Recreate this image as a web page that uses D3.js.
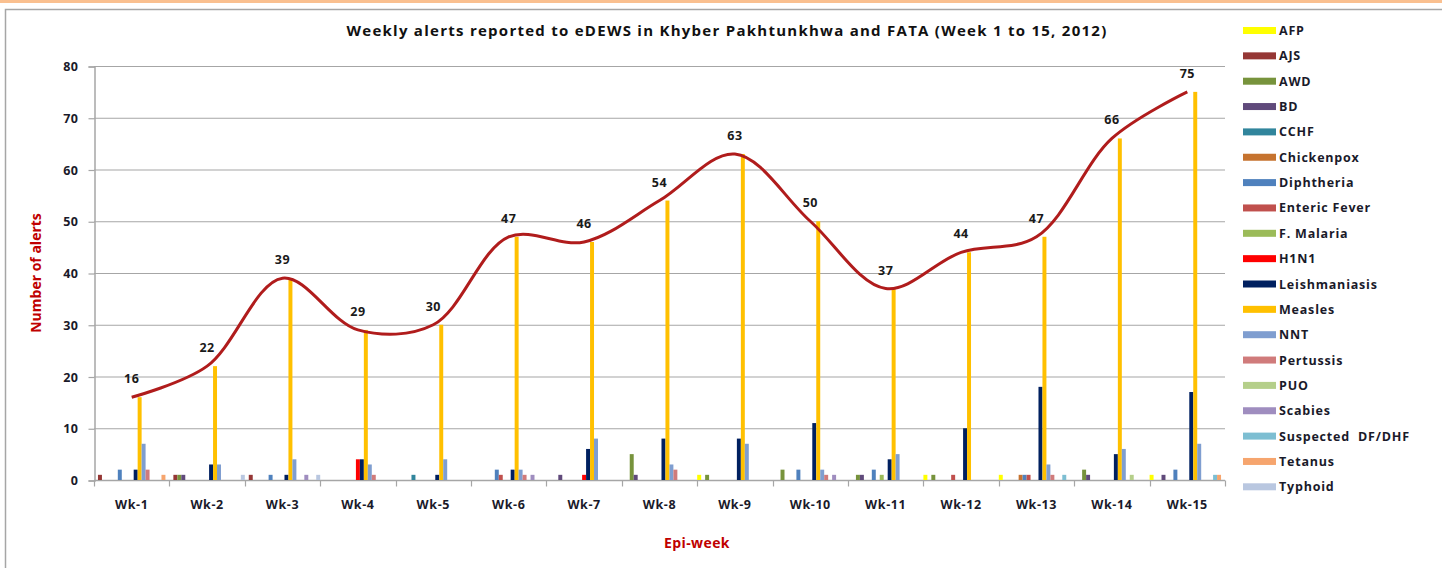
<!DOCTYPE html>
<html>
<head>
<meta charset="utf-8">
<script src="https://cdn.jsdelivr.net/npm/d3@7"></script>
<style>
  body { margin: 0; background: #fff; }
  svg { display: block; font-family: "Open Sans", "Liberation Sans", Arial, sans-serif; }
</style>
</head>
<body>
<script>
// ---------------- data ----------------
var weeks = ["Wk-1","Wk-2","Wk-3","Wk-4","Wk-5","Wk-6","Wk-7","Wk-8","Wk-9","Wk-10","Wk-11","Wk-12","Wk-13","Wk-14","Wk-15"];

var afp          = [0,0,0,0,0,0,0,0,1,0,0,1,1,0,1];
var ajs          = [1,1,1,0,0,0,0,0,0,0,0,0,0,0,0];
var awd          = [0,1,0,0,0,0,0,5,1,2,1,1,0,2,0];
var bd           = [0,1,0,0,0,0,1,1,0,0,1,0,0,1,1];
var cchf         = [0,0,0,0,1,0,0,0,0,0,0,0,0,0,0];
var chickenpox   = [0,0,0,0,0,0,0,0,0,0,0,0,1,0,0];
var diphtheria   = [2,0,1,0,0,2,0,0,0,2,2,0,1,0,2];
var entericFever = [0,0,0,0,0,1,0,0,0,0,0,1,1,0,0];
var fMalaria     = [0,0,0,0,0,0,0,0,0,0,1,0,0,0,0];
var h1n1         = [0,0,0,4,0,0,1,0,0,0,0,0,0,0,0];
var leish        = [2,3,1,4,1,2,6,8,8,11,4,10,18,5,17];
var measles      = [16,22,39,29,30,47,46,54,63,50,37,44,47,66,75];
var nnt          = [7,3,4,3,4,2,8,3,7,2,5,0,3,6,7];
var pertussis    = [2,0,0,1,0,1,0,2,0,1,0,0,1,0,0];
var puo          = [0,0,0,0,0,0,0,0,0,0,0,0,0,1,0];
var scabies      = [0,0,1,0,0,1,0,0,0,1,0,0,0,0,0];
var dfDhf        = [0,0,0,0,0,0,0,0,0,0,0,0,1,0,1];
var tetanus      = [1,0,0,0,0,0,0,0,0,0,0,0,0,0,1];
var typhoid      = [0,1,1,0,0,0,0,0,0,0,0,0,0,0,0];

var seriesNames = ["AFP","AJS","AWD","BD","CCHF","Chickenpox","Diphtheria","Enteric Fever","F. Malaria","H1N1",
                   "Leishmaniasis","Measles","NNT","Pertussis","PUO","Scabies","Suspected  DF/DHF","Tetanus","Typhoid"];
var seriesValues = [afp, ajs, awd, bd, cchf, chickenpox, diphtheria, entericFever, fMalaria, h1n1,
                    leish, measles, nnt, pertussis, puo, scabies, dfDhf, tetanus, typhoid];
var seriesColors = ["#FFFF00","#953735","#77933C","#604A7B","#31859C","#C6732F","#4F81BD","#C0504D","#9BBB59","#FF0000",
                    "#002060","#FFC000","#7F9ED0","#D07B7B","#B5CF8A","#9F8DBF","#7DBED2","#F6A56E","#B9C7E0"];

var yTicks = [0,10,20,30,40,50,60,70,80];

// ---------------- layout ----------------
var W = 1442, H = 568;
var plot = { left: 94, right: 1225, top: 66, bottom: 480 };
var textColor = "#1a1a2a";

var svg = d3.select("body").append("svg")
    .attr("width", W)
    .attr("height", H);

// frame
svg.append("rect").attr("x", 0).attr("y", 0).attr("width", W).attr("height", 3).attr("fill", "#FAC090");
svg.append("rect").attr("x", 5.5).attr("y", 9.5).attr("width", W + 20).attr("height", H + 20)
    .attr("fill", "none").attr("stroke", "#A6A6A6").attr("stroke-width", 1.5);

// scales
var x0 = d3.scaleBand().domain(weeks).range([plot.left, plot.right]);
var x1 = d3.scaleBand().domain(seriesNames).range([0, x0.bandwidth()]);
var y = d3.scaleLinear().domain([0, 80]).range([plot.bottom, plot.top]);

// gridlines
svg.append("g")
    .selectAll("line")
    .data(yTicks.slice(1))
    .enter().append("line")
    .attr("x1", plot.left).attr("x2", plot.right)
    .attr("y1", function(d) { return y(d) + 0.5; })
    .attr("y2", function(d) { return y(d) + 0.5; })
    .attr("stroke", "#A6A6A6").attr("stroke-width", 1.2);

// y axis
var yAxis = svg.append("g")
    .attr("transform", "translate(" + (plot.left + 0.5) + ",0.5)")
    .call(d3.axisLeft(y).tickValues(yTicks).tickSize(6).tickPadding(10));
yAxis.select(".domain").attr("stroke", "#A6A6A6").attr("stroke-width", 1.5);
yAxis.selectAll(".tick line").attr("stroke", "#A6A6A6").attr("stroke-width", 1.2);
yAxis.selectAll("text")
    .attr("font-size", 12.5).attr("font-weight", "bold").attr("fill", textColor)
    .attr("letter-spacing", 0.5)
    .attr("font-family", "'Open Sans', 'Liberation Sans', Arial, sans-serif");

// x axis (ticks at category boundaries)
var xAxisG = svg.append("g").attr("transform", "translate(0," + (plot.bottom + 0.5) + ")");
xAxisG.append("line")
    .attr("x1", plot.left).attr("x2", plot.right)
    .attr("stroke", "#A6A6A6").attr("stroke-width", 1.5);
xAxisG.selectAll("line.tk")
    .data(weeks.concat(["end"]))
    .enter().append("line")
    .attr("class", "tk")
    .attr("x1", function(d, i) { return Math.round(plot.left + i * x0.step()) + 0.5; })
    .attr("x2", function(d, i) { return Math.round(plot.left + i * x0.step()) + 0.5; })
    .attr("y1", 0).attr("y2", 6)
    .attr("stroke", "#A6A6A6").attr("stroke-width", 1.2);
xAxisG.selectAll("text")
    .data(weeks)
    .enter().append("text")
    .attr("x", function(d) { return x0(d) + x0.bandwidth() / 2; })
    .attr("y", 28)
    .attr("text-anchor", "middle")
    .attr("font-size", 12.5).attr("font-weight", "bold").attr("fill", textColor)
    .attr("letter-spacing", 0.6)
    .text(function(d) { return d; });

// bars
var rows = weeks.map(function(w, wi) {
    return { week: w, vals: seriesNames.map(function(s, si) { return { key: s, value: seriesValues[si][wi], color: seriesColors[si] }; }) };
});

svg.append("g")
    .selectAll("g")
    .data(rows)
    .enter().append("g")
    .attr("transform", function(d) { return "translate(" + x0(d.week) + ",0)"; })
    .selectAll("rect")
    .data(function(d) { return d.vals.filter(function(v) { return v.value > 0; }); })
    .enter().append("rect")
    .attr("x", function(d) { return x1(d.key); })
    .attr("width", x1.bandwidth())
    .attr("y", function(d) { return y(d.value); })
    .attr("height", function(d) { return plot.bottom - y(d.value); })
    .attr("fill", function(d) { return d.color; });

// smoothed line through measles counts
var line = d3.line()
    .x(function(d, i) { return x0(weeks[i]) + x0.bandwidth() / 2; })
    .y(function(d) { return y(d); })
    .curve(d3.curveCatmullRom.alpha(0.5));

svg.append("path")
    .datum(measles)
    .attr("d", line)
    .attr("fill", "none")
    .attr("stroke", "#B01C1C")
    .attr("stroke-width", 3);

svg.append("g")
    .selectAll("text")
    .data(measles)
    .enter().append("text")
    .attr("x", function(d, i) { return x0(weeks[i]) + x0.bandwidth() / 2; })
    .attr("y", function(d) { return y(d) - 14; })
    .attr("text-anchor", "middle")
    .attr("font-size", 12.5).attr("font-weight", "bold").attr("fill", "#1a1a1a")
    .attr("letter-spacing", 0.5)
    .text(function(d) { return d; });

// titles
var title = svg.append("text")
    .attr("x", 727).attr("y", 36)
    .attr("text-anchor", "middle")
    .attr("font-size", 15).attr("font-weight", "bold").attr("fill", "#111")
    .text("Weekly alerts reported to eDEWS in Khyber Pakhtunkhwa and FATA (Week 1 to 15, 2012)");
// stretch the title to the width it has in the original
var tLen = title.node().getComputedTextLength();
var tChars = title.text().length;
title.attr("letter-spacing", Math.max(0, (761 - tLen) / tChars));

svg.append("text")
    .attr("transform", "translate(41," + ((plot.top + plot.bottom) / 2) + ") rotate(-90)")
    .attr("text-anchor", "middle")
    .attr("font-size", 14).attr("font-weight", "bold").attr("fill", "#C00000")
    .text("Number of alerts");

svg.append("text")
    .attr("x", 697).attr("y", 548)
    .attr("text-anchor", "middle")
    .attr("font-size", 14).attr("font-weight", "bold").attr("fill", "#C00000")
    .attr("letter-spacing", 0.4)
    .text("Epi-week");

// legend
var legend = svg.append("g")
    .selectAll("g")
    .data(seriesNames)
    .enter().append("g")
    .attr("transform", function(d, i) { return "translate(1243," + (30.5 + i * 25.35) + ")"; });

legend.append("rect")
    .attr("x", 0).attr("y", -3.5)
    .attr("width", 33).attr("height", 7)
    .attr("fill", function(d, i) { return seriesColors[i]; });

legend.append("text")
    .attr("x", 36).attr("y", 0)
    .attr("dy", "0.36em")
    .attr("font-size", 12.5).attr("font-weight", "bold").attr("fill", textColor)
    .attr("letter-spacing", 0.8)
    .style("white-space", "pre")
    .text(function(d) { return d; });
</script>
</body>
</html>
